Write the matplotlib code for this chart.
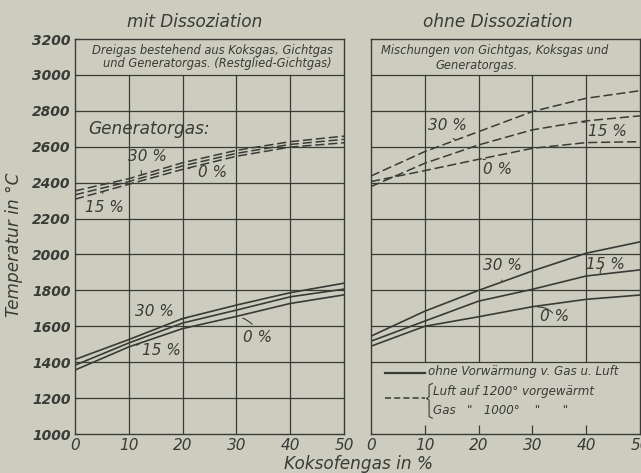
import numpy as np
import matplotlib
matplotlib.use('Agg')
import matplotlib.pyplot as plt
from matplotlib.lines import Line2D

# colours of the old print
BG = '#cdcdbf'
INK = '#3a3a36'
FONT = ['DejaVu Sans']

# Koksofengas in %
x = [0, 10, 20, 30, 40, 50]
xticks = [0, 10, 20, 30, 40, 50]
yticks = [1000, 1200, 1400, 1600, 1800, 2000, 2200, 2400, 2600, 2800, 3000, 3200]

# mit Dissoziation, Dreigas
# Generatorgas-Anteil 30 / 15 / 0 %, Luft und Gas vorgewaermt (gestrichelt)
mit_vorw_30 = [2354, 2422, 2511, 2580, 2628, 2659]
mit_vorw_15 = [2332, 2406, 2493, 2563, 2613, 2641]
mit_vorw_0 = [2308, 2391, 2474, 2547, 2598, 2622]
# ohne Vorwaermung (voll)
mit_kalt_30 = [1415, 1526, 1643, 1718, 1787, 1840]
mit_kalt_15 = [1383, 1507, 1618, 1690, 1764, 1807]
mit_kalt_0 = [1356, 1485, 1587, 1655, 1727, 1775]

# ohne Dissoziation
ohne_vorw_30 = [2437, 2573, 2684, 2796, 2870, 2912]
ohne_vorw_15 = [2378, 2508, 2610, 2694, 2744, 2772]
ohne_vorw_0 = [2406, 2467, 2530, 2591, 2623, 2628]
ohne_kalt_30 = [1545, 1684, 1800, 1908, 2007, 2070]
ohne_kalt_15 = [1517, 1629, 1740, 1806, 1880, 1914]
ohne_kalt_0 = [1489, 1600, 1653, 1709, 1750, 1774]

fig = plt.figure(figsize=(6.41, 4.73), dpi=100, facecolor=BG)
axL = fig.add_axes([75/641, 1-434/473, 269/641, 395/473])
axR = fig.add_axes([371/641, 1-434/473, 269/641, 395/473])


def setup(ax, legend_box=False):
    ax.set_facecolor(BG)
    ax.set_xlim(0, 50)
    ax.set_ylim(1000, 3200)
    for s in ax.spines.values():
        s.set_color(INK)
        s.set_linewidth(1.0)
    # horizontal grid
    for y in yticks[1:-1]:
        if legend_box and y < 1400:
            continue
        ax.axhline(y, color=INK, lw=0.9, zorder=1)
    # vertical grid stops below the header box
    if legend_box:
        ax.vlines(xticks[1:-1], 1400, 3000, color=INK, lw=0.9, zorder=1)
        ax.vlines(xticks[1:-1], 1000, 1050, color=INK, lw=0.9, zorder=1)
    else:
        ax.vlines(xticks[1:-1], 1000, 3000, color=INK, lw=0.9, zorder=1)
    ax.set_xticks(xticks)
    ax.set_xticklabels([str(v) for v in xticks], fontstyle='italic',
                       family=FONT, fontsize=11, color=INK)
    ax.tick_params(axis='x', length=0, pad=3)
    ax.set_yticks(yticks)


setup(axL)
setup(axR, legend_box=True)

axL.set_yticklabels([str(v) for v in yticks], fontstyle='italic', family=FONT,
                    fontsize=10, color=INK, fontweight='bold')
axL.tick_params(axis='y', length=3, direction='in', pad=3, color=INK)
axR.tick_params(axis='y', length=0, labelleft=False)

dash = dict(ls=(0, (6, 2.5)), lw=1.1, color=INK, zorder=3)
solid = dict(ls='-', lw=1.2, color=INK, zorder=3)

for ys in (mit_vorw_30, mit_vorw_15, mit_vorw_0):
    axL.plot(x, ys, **dash)
for ys in (mit_kalt_30, mit_kalt_15, mit_kalt_0):
    axL.plot(x, ys, **solid)
for ys in (ohne_vorw_30, ohne_vorw_15, ohne_vorw_0):
    axR.plot(x, ys, **dash)
for ys in (ohne_kalt_30, ohne_kalt_15, ohne_kalt_0):
    axR.plot(x, ys, **solid)


def lab(ax, txt, xy, xytext, rad=0.3):
    ax.annotate(txt, xy=xy, xytext=xytext, fontsize=11, fontstyle='italic',
                family=FONT, color=INK, ha='center', va='center',
                arrowprops=dict(arrowstyle='-', lw=0.8, color=INK,
                                connectionstyle='arc3,rad=%s' % rad,
                                shrinkA=3, shrinkB=0))


# percent labels
lab(axL, '30 %', (12.4, 2445), (13.5, 2548))
lab(axL, '0 %', (21, 2478), (25.5, 2455))
lab(axL, '15 %', (5.2, 2345), (5.5, 2260), rad=-0.3)
lab(axL, '30 %', (21, 1650), (14.7, 1684))
lab(axL, '15 %', (11.4, 1495), (16, 1465), rad=0.3)
lab(axL, '0 %', (31.2, 1645), (34, 1535), rad=0.3)
lab(axR, '30 %', (15.6, 2640), (14.2, 2720))
lab(axR, '15 %', (39.4, 2735), (44, 2686), rad=0.3)
lab(axR, '0 %', (20.8, 2530), (23.6, 2471), rad=0.3)
lab(axR, '30 %', (24.3, 1855), (24.4, 1936))
lab(axR, '15 %', (42.6, 1895), (43.6, 1945))
lab(axR, '0 %', (31, 1707), (34.2, 1655), rad=0.3)

axL.text(2.4, 2700, 'Generatorgas:', fontsize=12.2, fontstyle='italic',
         family=FONT, color=INK, ha='left', va='center')

# header boxes
hdr = dict(fontsize=8.3, fontstyle='italic', family=FONT, color=INK,
           ha='center', va='center')
axL.text(0.51, 0.970, 'Dreigas bestehend aus Koksgas, Gichtgas',
         transform=axL.transAxes, **hdr)
axL.text(0.53, 0.939, 'und Generatorgas. (Restglied-Gichtgas)',
         transform=axL.transAxes, **hdr)
axR.text(0.461, 0.972, 'Mischungen von Gichtgas, Koksgas und',
         transform=axR.transAxes, **hdr)
axR.text(0.394, 0.934, 'Generatorgas.', transform=axR.transAxes, **hdr)

# legend in the right panel
leg = dict(fontsize=8.6, fontstyle='italic', family=FONT, color=INK,
           ha='left', va='center')
axR.add_line(Line2D([0.052, 0.201], [0.155, 0.155], transform=axR.transAxes,
                    color=INK, lw=1.6))
axR.add_line(Line2D([0.052, 0.200], [0.090, 0.090], transform=axR.transAxes,
                    color=INK, lw=1.1, ls=(0, (4, 2))))
# thin bracket joining the two preheating lines
axR.add_line(Line2D([0.228, 0.216, 0.216, 0.206, 0.216, 0.216, 0.228],
                    [0.128, 0.124, 0.094, 0.090, 0.086, 0.044, 0.040],
                    transform=axR.transAxes, color=INK, lw=0.8))
axR.text(0.212, 0.158, 'ohne Vorwärmung v. Gas u. Luft',
         transform=axR.transAxes, **leg)
axR.text(0.232, 0.108, 'Luft auf 1200° vorgewärmt',
         transform=axR.transAxes, **leg)
axR.text(0.232, 0.060, 'Gas   "   1000°    "      "',
         transform=axR.transAxes, **leg)

# titles and axis labels
big = dict(fontsize=12.2, fontstyle='italic', family=FONT, color=INK,
           ha='center', va='center')
fig.text(195/641, 1-22/473, 'mit Dissoziation', **big)
fig.text(498/641, 1-22/473, 'ohne Dissoziation', **big)
fig.text(358/641, 1-464/473, 'Koksofengas in %', **big)
fig.text(14/641, 1-245/473, 'Temperatur in °C', rotation=90, **big)

fig.savefig('out.png', dpi=100, facecolor=BG)
